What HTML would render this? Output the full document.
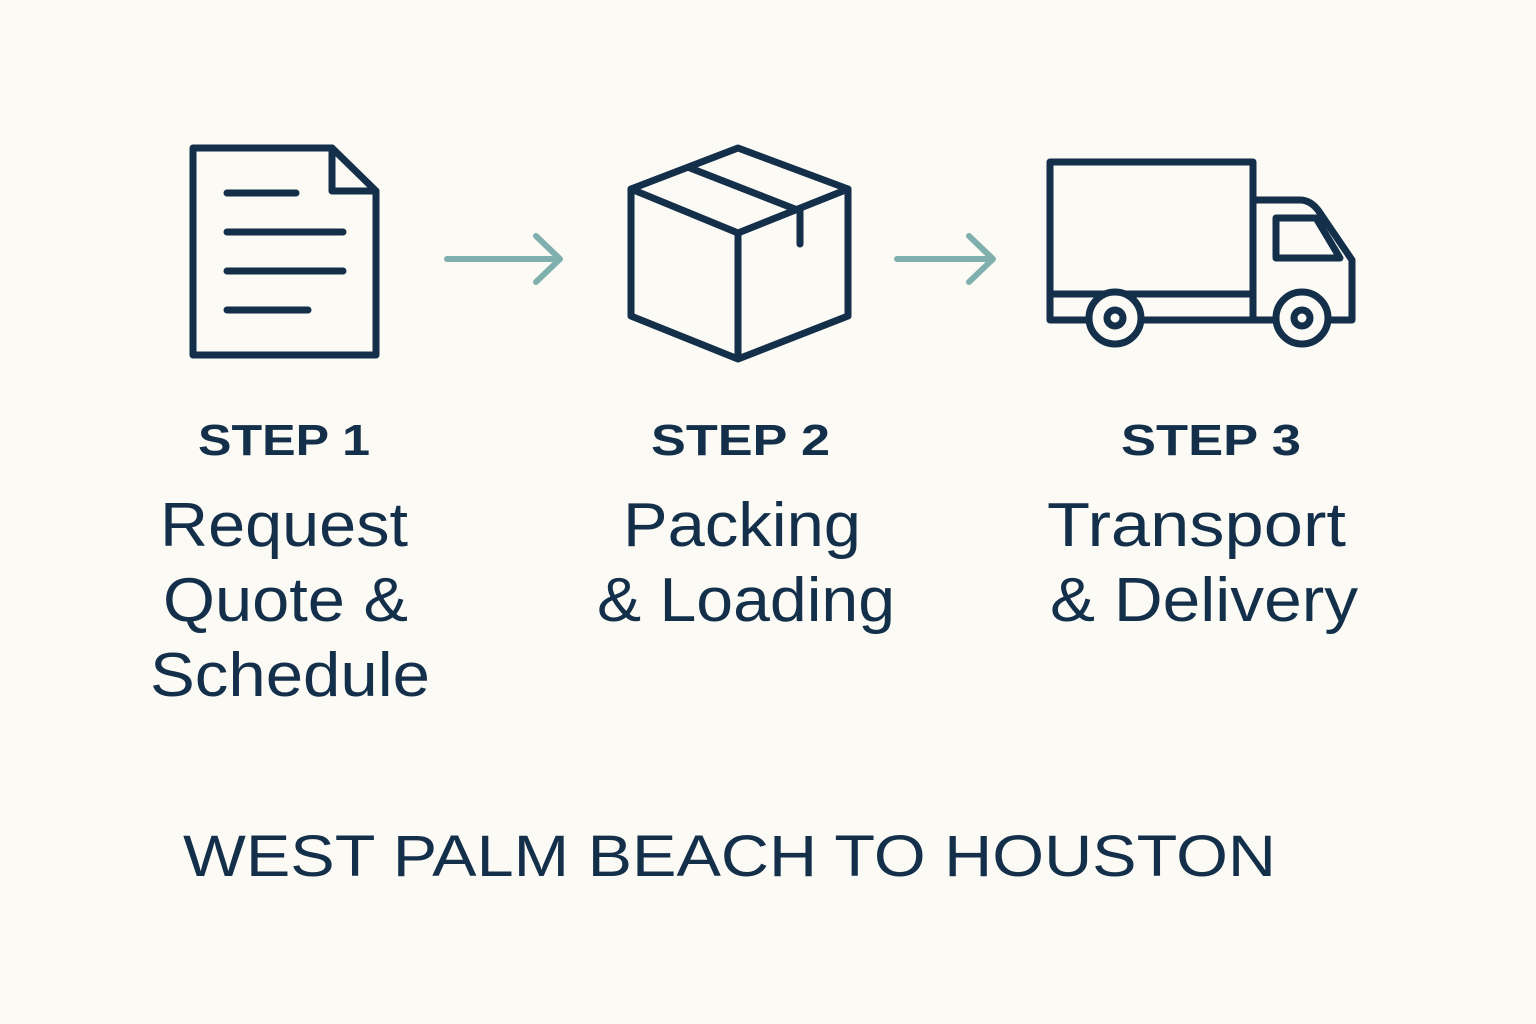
<!DOCTYPE html>
<html><head><meta charset="utf-8"><style>
html,body{margin:0;padding:0;background:#fbfaf5;}
svg{display:block;}
text{font-family:"Liberation Sans",sans-serif;fill:#132f4a;}
</style></head><body>
<svg width="1536" height="1024" viewBox="0 0 1536 1024">
<rect width="1536" height="1024" fill="#fbfaf5"/>
<g fill="none" stroke="#132f4a" stroke-width="7" stroke-linejoin="round" stroke-linecap="round">
<path d="M193 148 H332 L376 191 V355 H193 Z"/>
<path d="M332 148 V191 H376"/>
<path d="M227 193 H296 M227 232 H343 M227 271 H343 M227 310 H308"/>
<path d="M738 148 L848 189 L738 233 L631 189 Z"/>
<path d="M631 189 V316 L738 359 L848 316 V189 M738 233 V359"/>
<path d="M690 168 L800 211 V244"/>
<path d="M1050 162 H1253 V320 H1050 Z M1050 294 H1253"/>
<path d="M1253 200 H1300 Q1310 200 1318 210 L1352 260 V320 H1253"/>
<path d="M1276 218 H1316 L1340 258 H1276 Z"/>
</g>
<g stroke="#132f4a" stroke-width="7" fill="#fbfaf5">
<circle cx="1115" cy="318" r="26"/><circle cx="1302" cy="318" r="26"/>
<circle cx="1115" cy="318" r="8"/><circle cx="1302" cy="318" r="8"/>
</g>
<g fill="none" stroke="#7fb0ae" stroke-width="6" stroke-linecap="round" stroke-linejoin="round">
<path d="M447 259 H559 M536 236 L560 259 L536 282"/>
<path d="M897 259 H992 M969 236 L993 259 L969 282"/>
</g>
<g font-size="44" font-weight="bold" lengthAdjust="spacingAndGlyphs">
<text x="198" y="455" textLength="172" lengthAdjust="spacingAndGlyphs">STEP 1</text>
<text x="651" y="455" textLength="179" lengthAdjust="spacingAndGlyphs">STEP 2</text>
<text x="1121" y="455" textLength="180" lengthAdjust="spacingAndGlyphs">STEP 3</text>
</g>
<g font-size="62">
<text x="160" y="546" textLength="248" lengthAdjust="spacingAndGlyphs">Request</text>
<text x="163" y="621" textLength="245" lengthAdjust="spacingAndGlyphs">Quote &amp;</text>
<text x="150" y="696" textLength="280" lengthAdjust="spacingAndGlyphs">Schedule</text>
<text x="623" y="546" textLength="238" lengthAdjust="spacingAndGlyphs">Packing</text>
<text x="597" y="621" textLength="298" lengthAdjust="spacingAndGlyphs">&amp; Loading</text>
<text x="1047" y="546" textLength="299" lengthAdjust="spacingAndGlyphs">Transport</text>
<text x="1050" y="621" textLength="308" lengthAdjust="spacingAndGlyphs">&amp; Delivery</text>
</g>
<text x="183" y="876" font-size="58" textLength="1093" lengthAdjust="spacingAndGlyphs">WEST PALM BEACH TO HOUSTON</text>
</svg>
</body></html>
